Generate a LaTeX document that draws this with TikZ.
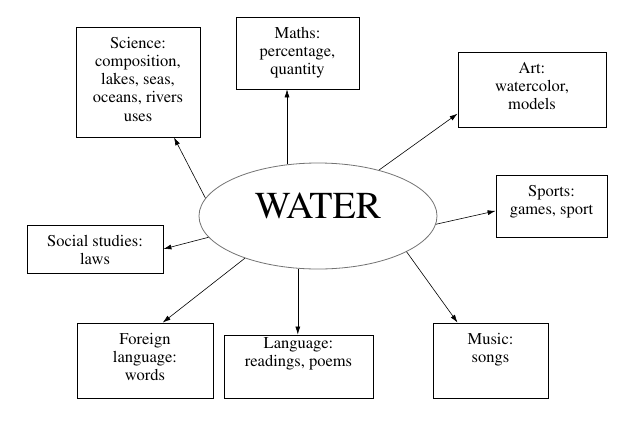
\documentclass[tikz,border=0pt]{standalone}
\usepackage[T1]{fontenc}
\usepackage{times}
\usetikzlibrary{shapes.geometric,arrows.meta}

% top-aligned, centred text in a box of fixed size
\newcommand{\boxtext}[4][8.2pt]{\parbox[c][#3][t]{#2}{\centering\vspace*{#1}\strut#4\par}}

\begin{document}
\begin{tikzpicture}[
  x=1pt, y=-1pt, >={Latex[length=8pt,width=5pt]},
  box/.style={draw, line width=0.8pt, inner sep=0pt, font=\rmfamily\fontsize{16.5}{18.3}\selectfont},
  topic/.style={ellipse, draw=black!55, line width=0.8pt, minimum width=238pt, minimum height=106pt,
    inner sep=0pt, font=\rmfamily\fontsize{38}{40}\selectfont, text height=25pt, text depth=21pt},
  link/.style={->, line width=0.6pt},
]
\useasboundingbox (0,0) rectangle (620,421);
% ---- centre ----
\node[topic] (water) at (318,216) {WATER};
% ---- subjects ----
\node[box] (sci) at (138,82) {\boxtext{124pt}{110pt}{Science:\\composition,\\lakes, seas,\\oceans, rivers\\uses}};
\node[box] (maths) at (297.5,53) {\boxtext{123pt}{72pt}{Maths:\\percentage,\\quantity}};
\node[box] (art) at (532,89.5) {\boxtext{148pt}{75pt}{Art:\\watercolor,\\models}};
\node[box] (sports) at (551.5,206) {\boxtext{111pt}{62pt}{Sports:\\games, sport}};
\node[box] (social) at (95,249) {\boxtext{136pt}{48pt}{Social studies:\\laws}};
\node[box] (foreign) at (145,360.5) {\boxtext{136pt}{75pt}{Foreign\\language:\\words}};
\node[box] (lang) at (298.5,366.5) {\boxtext[0.7pt]{149pt}{63pt}{Language:\\readings, poems}};
\node[box] (music) at (490.5,360.5) {\boxtext{115pt}{75pt}{Music:\\songs}};
% ---- links ----
\draw[link] (water.171) -- (sci.-57);
\draw[link] (water.121) -- (water.121 |- maths.south);
\draw[link] (water.37) -- (art.198);
\draw[link] (water.-4) -- (sports.185);
\draw[link] (water.191) -- (social.east);
\draw[link] (water.210) -- (foreign.65);
\draw[link] (water.249) -- (water.249 |- lang.north);
\draw[link] (water.338) -- (music.131);
\end{tikzpicture}
\end{document}
